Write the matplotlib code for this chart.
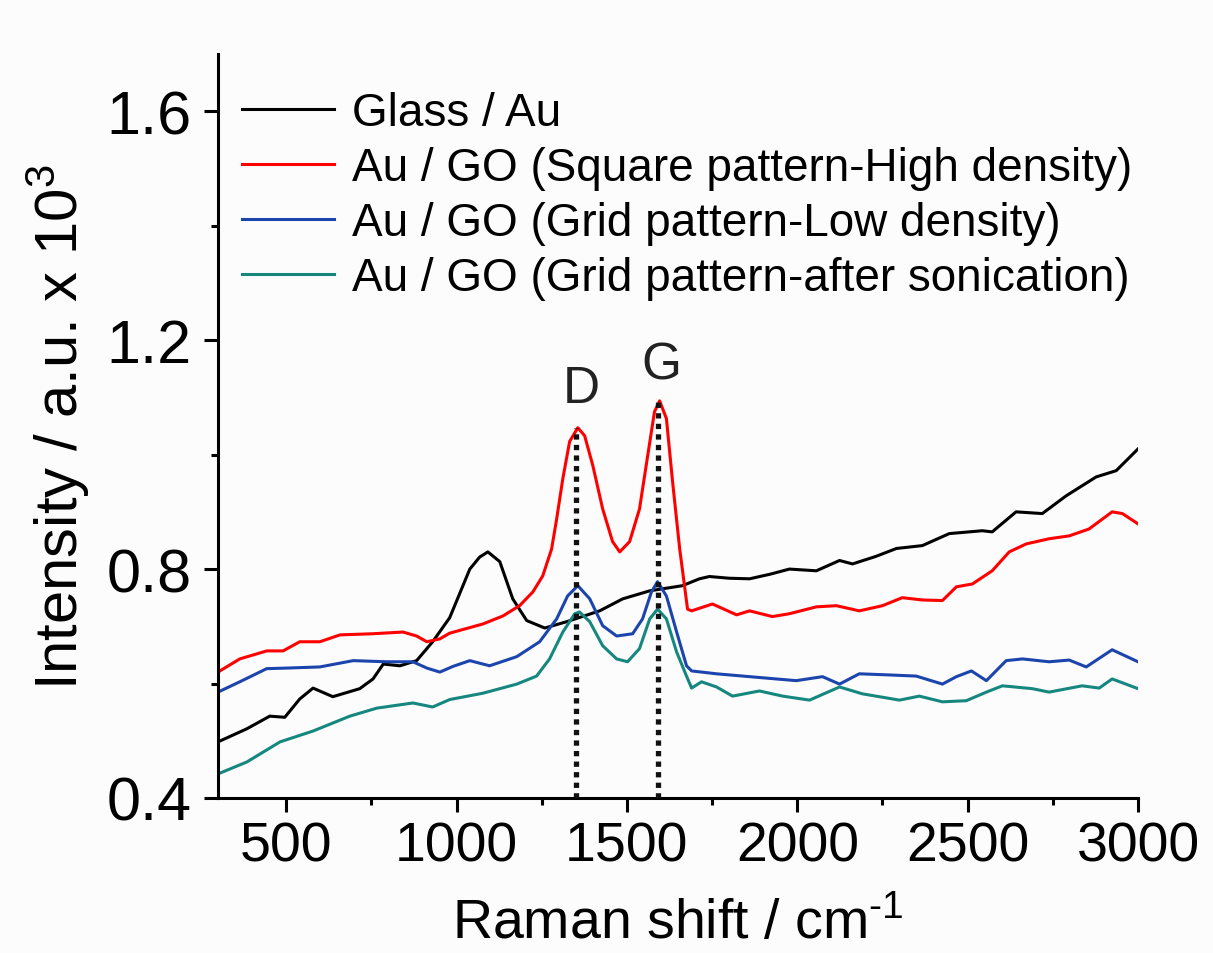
import matplotlib
matplotlib.use("Agg")
import matplotlib.pyplot as plt
from matplotlib.ticker import MultipleLocator

plt.rcParams['font.family'] = ['Liberation Sans', 'DejaVu Sans']
plt.rcParams['mathtext.fontset'] = 'custom'
plt.rcParams['mathtext.rm'] = 'Liberation Sans'
plt.rcParams['mathtext.it'] = 'Liberation Sans'

# ---- data ----
glass_x = [300, 385, 452, 496, 540, 579, 637, 716, 755, 785, 834, 883, 930, 980, 1039, 1068,
           1092, 1127, 1165, 1206, 1259, 1323, 1420, 1488, 1567, 1663, 1713,
           1742, 1800, 1860, 1920, 1977, 2056, 2124, 2162, 2230, 2291, 2367, 2446, 2543, 2572,
           2642, 2719, 2789, 2877, 2936, 3000]
glass_y = [0.498, 0.521, 0.543, 0.541, 0.573, 0.592, 0.577, 0.591, 0.608, 0.634, 0.631, 0.640,
           0.673, 0.715, 0.800, 0.821, 0.830, 0.813, 0.748, 0.710, 0.697, 0.708, 0.727, 0.748,
           0.762, 0.771, 0.783, 0.787, 0.784, 0.783, 0.791, 0.800, 0.797, 0.815, 0.809, 0.822,
           0.836, 0.841, 0.862, 0.867, 0.865, 0.900, 0.897, 0.928, 0.961, 0.972, 1.010]

square_x = [300, 364, 443, 491, 540, 599, 658, 755, 843, 883, 913, 951, 980, 1077, 1136, 1185,
            1224, 1253, 1279, 1294, 1312, 1332, 1356, 1376, 1400, 1429, 1458, 1479, 1508, 1537,
            1561, 1581, 1596, 1616, 1634, 1655, 1678, 1690, 1751, 1822, 1860, 1927, 1977, 2056,
            2115, 2182, 2250, 2308, 2367, 2426, 2467, 2514, 2572, 2622, 2672, 2739, 2798, 2856,
            2924, 2954, 3000]
square_y = [0.620, 0.643, 0.657, 0.657, 0.673, 0.673, 0.685, 0.687, 0.690, 0.683, 0.673, 0.678,
            0.688, 0.704, 0.718, 0.736, 0.760, 0.788, 0.835, 0.888, 0.958, 1.023, 1.047, 1.033,
            0.981, 0.905, 0.848, 0.830, 0.848, 0.905, 0.998, 1.075, 1.094, 1.063, 0.953, 0.835,
            0.730, 0.727, 0.739, 0.720, 0.727, 0.717, 0.722, 0.734, 0.736, 0.727, 0.736, 0.750,
            0.746, 0.745, 0.769, 0.774, 0.797, 0.830, 0.844, 0.853, 0.858, 0.870, 0.900, 0.897,
            0.879]

grid_x = [300, 364, 443, 502, 599, 697, 795, 872, 913, 951, 990, 1039, 1097, 1177, 1244, 1294,
          1326, 1356, 1391, 1429, 1470, 1517, 1546, 1572, 1590, 1616, 1646, 1675, 1690, 1763,
          1860, 1997, 2074, 2124, 2182, 2270, 2349, 2426, 2467, 2511, 2555, 2613, 2661, 2739,
          2798, 2848, 2924, 3000]
grid_y = [0.585, 0.603, 0.626, 0.627, 0.629, 0.640, 0.638, 0.638, 0.627, 0.620, 0.630, 0.640,
          0.631, 0.647, 0.673, 0.713, 0.753, 0.771, 0.748, 0.701, 0.683, 0.687, 0.713, 0.760,
          0.778, 0.753, 0.690, 0.631, 0.622, 0.617, 0.612, 0.605, 0.612, 0.599, 0.617, 0.615,
          0.613, 0.599, 0.612, 0.622, 0.605, 0.640, 0.643, 0.638, 0.641, 0.629, 0.659, 0.638]

sonic_x = [300, 385, 482, 579, 687, 766, 872, 930, 980, 1077, 1177, 1235, 1273, 1312, 1347,
           1361, 1391, 1429, 1470, 1502, 1537, 1567, 1590, 1616, 1646, 1675, 1690, 1719, 1763,
           1810, 1889, 1957, 2036, 2124, 2191, 2300, 2358, 2426, 2496, 2555, 2602, 2690, 2739,
           2836, 2886, 2924, 3000]
sonic_y = [0.442, 0.463, 0.498, 0.517, 0.543, 0.557, 0.566, 0.559, 0.572, 0.583, 0.599, 0.613,
           0.643, 0.690, 0.722, 0.725, 0.708, 0.666, 0.643, 0.638, 0.661, 0.713, 0.730, 0.713,
           0.655, 0.613, 0.592, 0.603, 0.594, 0.578, 0.587, 0.578, 0.571, 0.594, 0.582, 0.571,
           0.578, 0.568, 0.570, 0.585, 0.596, 0.591, 0.585, 0.596, 0.592, 0.608, 0.591]

labels = ["Glass / Au",
          "Au / GO (Square pattern-High density)",
          "Au / GO (Grid pattern-Low density)",
          "Au / GO (Grid pattern-after sonication)"]
colors = ["#000000", "#ff0000", "#1c44ad", "#15877f"]

peak_pos = [1352, 1592]
peak_top = [1.047, 1.096]
peak_names = ["D", "G"]
peak_label_pos = [(1365, 1.115), (1602, 1.156)]

fig = plt.figure(figsize=(12.13, 9.54), dpi=100, facecolor="#fcfcfc")
ax = fig.add_axes([0.1797, 0.1625, 0.7585, 0.7798])
ax.set_facecolor("#fcfcfc")

series = [(glass_x, glass_y), (square_x, square_y), (grid_x, grid_y), (sonic_x, sonic_y)]
for (xs, ys), lab, c in zip(series, labels, colors):
    ax.plot(xs, ys, color=c, lw=2.2, label=lab)

for p, t in zip(peak_pos, peak_top):
    ax.plot([p, p], [0.4, t], color="#111111", lw=3.8, linestyle=(0, (1, 1)), zorder=3)
for n, (px, py) in zip(peak_names, peak_label_pos):
    ax.text(px, py, n, fontsize=37, ha="center", va="center", color="#222222")

ax.set_xlim(300, 3000)
ax.set_ylim(0.4, 1.7)
ax.xaxis.set_major_locator(MultipleLocator(500))
ax.xaxis.set_minor_locator(MultipleLocator(250))
ax.yaxis.set_minor_locator(MultipleLocator(0.2))
ax.set_yticks([0.4, 0.8, 1.2, 1.6])
ax.set_yticklabels(["0.4", "0.8", "1.2", "1.6"])

for s in ["top", "right"]:
    ax.spines[s].set_visible(False)
for s in ["left", "bottom"]:
    ax.spines[s].set_linewidth(2.2)

ax.tick_params(which="major", direction="out", length=10, width=2.2, labelsize=40, pad=6)
ax.tick_params(axis="y", which="major", labelsize=44, pad=9)
ax.tick_params(which="minor", direction="out", length=5, width=2.2)

ax.set_xlabel("Raman shift / cm$^{\\text{-1}}$", fontsize=40, labelpad=18)
ax.set_ylabel("Intensity / a.u. x 10$^{\\mathrm{3}}$", fontsize=43, labelpad=10)

leg = ax.legend(loc="upper left", bbox_to_anchor=(0.026, 0.95), frameon=False,
                fontsize=33, handlelength=2.0, handletextpad=0.4, labelspacing=0.24,
                borderpad=0, borderaxespad=0)
for line in leg.get_lines():
    line.set_linewidth(2.2)

fig.savefig("out.png", dpi=100, facecolor=fig.get_facecolor())
